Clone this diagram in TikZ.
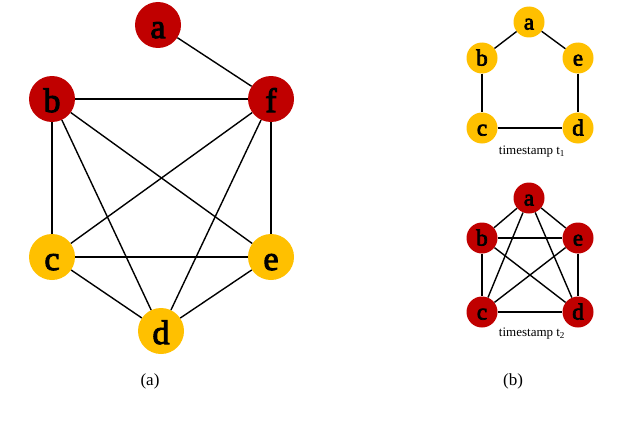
\documentclass[tikz,border=0pt]{standalone}
\usepackage{fontspec}
\setmainfont{Liberation Serif}
\newfontfamily\nodefont{Liberation Serif}[FakeBold=3]
\definecolor{darkred}{HTML}{C00000}
\definecolor{amber}{HTML}{FFC000}

\begin{document}
\begin{tikzpicture}[x=1pt,y=-1pt,
   bignode/.style={circle,fill=#1,minimum size=46pt,inner sep=0pt,text height=26pt,text depth=0pt,font=\nodefont\fontsize{34}{34}\selectfont},
   smallnode/.style={circle,fill=#1,minimum size=31pt,inner sep=0pt,text height=15pt,text depth=0pt,font=\nodefont\fontsize{23}{23}\selectfont},
   link/.style={line width=1.4pt},
   caption/.style={font=\fontsize{17}{17}\selectfont}]
\useasboundingbox (0,0) rectangle (628,428);
% (a) static graph
   \foreach \c/\i/\x/\y in
        {darkred/a/158/25,darkred/b/52/99,darkred/f/271/99,amber/c/52/257,amber/e/271/257,amber/d/161/331}
           \node[bignode=\c](S\i) at (\x,\y){\i} ;
\draw[link] (Sa) -- (Sf);
\draw[link] (Sb) -- (Sf);
\draw[link] (Sb) -- (Sc);
\draw[link] (Sb) -- (Sd);
\draw[link] (Sb) -- (Se);
\draw[link] (Sf) -- (Sc);
\draw[link] (Sf) -- (Sd);
\draw[link] (Sf) -- (Se);
\draw[link] (Sc) -- (Se);
\draw[link] (Sc) -- (Sd);
\draw[link] (Se) -- (Sd);
\node[caption] (capa) at (150,381) {(a)};

% (b) dynamic graph, timestamp t1
   \foreach \i/\x/\y in {a/529/22,b/482/58,e/578/58,c/482/128,d/578/128}
           \node[smallnode=amber](P\i) at (\x,\y){\i} ;
\draw[link] (Pa) -- (Pb);
\draw[link] (Pa) -- (Pe);
\draw[link] (Pb) -- (Pc);
\draw[link] (Pe) -- (Pd);
\draw[link] (Pc) -- (Pd);
\node[font=\fontsize{13}{13}\selectfont] (tone) at (532,152) {timestamp t\textsubscript{1}};

% (b) dynamic graph, timestamp t2
   \foreach \i/\x/\y in {a/529/198,b/482/238,e/578/238,c/482/312,d/578/312}
           \node[smallnode=darkred](Q\i) at (\x,\y){\i} ;
\draw[link] (Qa) -- (Qb);
\draw[link] (Qa) -- (Qe);
\draw[link] (Qa) -- (Qc);
\draw[link] (Qa) -- (Qd);
\draw[link] (Qb) -- (Qe);
\draw[link] (Qb) -- (Qd);
\draw[link] (Qb) -- (Qc);
\draw[link] (Qe) -- (Qc);
\draw[link] (Qe) -- (Qd);
\draw[link] (Qc) -- (Qd);
\node[font=\fontsize{13}{13}\selectfont] (ttwo) at (532,334) {timestamp t\textsubscript{2}};
\node[caption] (capb) at (513,381) {(b)};
\end{tikzpicture}
\end{document}
